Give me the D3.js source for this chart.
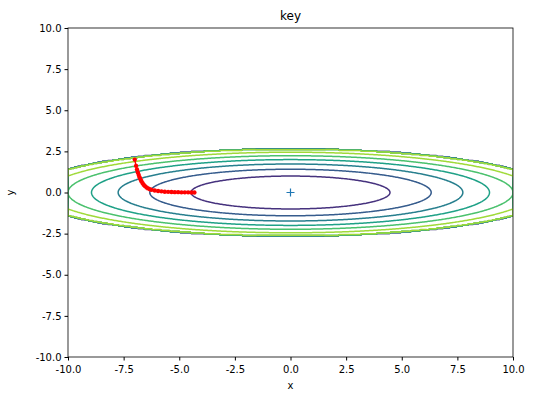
<!DOCTYPE html><html><head><script src="https://cdn.jsdelivr.net/npm/d3@7"></script>
<style>body{margin:0;background:#fff}text{font-family:"DejaVu Sans",sans-serif;fill:#000}</style></head><body><svg id="c" width="554" height="403"></svg>
<script>
const pathX=[-7.0,-6.94,-6.9,-6.86,-6.82,-6.78,-6.74,-6.7,-6.65,-6.6,-6.54,-6.47,-6.4,-6.32,-6.24,-6.1,-5.95,-5.8,-5.65,-5.5,-5.35,-5.2,-5.05,-4.9,-4.75,-4.6,-4.45,-4.32];
const pathY=[2.0,1.62,1.4,1.22,1.06,0.92,0.8,0.68,0.57,0.47,0.39,0.31,0.25,0.2,0.16,0.12,0.09,0.07,0.05,0.04,0.03,0.02,0.02,0.01,0.01,0.01,0.0,0.0];
const levels=[1,2,3,4,5,6];
const ticks=[-10,-7.5,-5,-2.5,0,2.5,5,7.5,10];
const title="key";
const svg=d3.select("#c");
const L=68,R=513,T=28,B=357;
const x=d3.scaleLinear([-10,10],[L,R]),y=d3.scaleLinear([-10,10],[B,T]);
svg.append("defs").append("clipPath").attr("id","cl").append("rect").attr("x",L).attr("y",T).attr("width",R-L).attr("height",B-T);
// grid with mask Z>7 -> 0, padded by one cell of 0
const h=0.05,n=Math.round(20/h)+1,N=n+2,vals=new Array(N*N);
for(let j=0;j<N;j++)for(let i=0;i<N;i++){let v=0;if(i>0&&i<N-1&&j>0&&j<N-1){const xx=-10+(i-1)*h,yy=-10+(j-1)*h;v=xx*xx/20+yy*yy;if(v>7)v=0;}vals[j*N+i]=v;}
const cs=d3.contours().size([N,N]).thresholds(levels)(vals);
const gx=d3.scaleLinear([1,n],[-10,10]);
const proj=d3.geoTransform({point(px,py){this.stream.point(x(gx(px-0.5)),y(gx(py-0.5)));}});
const col=l=>d3.interpolateViridis(l/7);
const g=svg.append("g").attr("clip-path","url(#cl)");
g.selectAll("path.c").data(cs).join("path").attr("d",d3.geoPath(proj)).attr("fill","none").attr("stroke",d=>col(d.value)).attr("stroke-width",1.5);
const pts=pathX.map((v,i)=>[v,pathY[i]]);
g.append("path").attr("d",d3.line().x(d=>x(d[0])).y(d=>y(d[1]))(pts)).attr("fill","none").attr("stroke","red").attr("stroke-width",1.5);
g.selectAll("circle").data(pts).join("circle").attr("cx",d=>x(d[0])).attr("cy",d=>y(d[1])).attr("r",2.2).attr("fill","red");
g.append("path").attr("d",`M${x(0)-4},${y(0)}h8M${x(0)},${y(0)-4}v8`).attr("stroke","#1f77b4").attr("stroke-width",1.2);
const fmt=d=>d.toFixed(1);
svg.append("g").attr("transform",`translate(0,${B})`).call(d3.axisBottom(x).tickValues(ticks).tickFormat(fmt).tickSize(3.5).tickSizeOuter(0)).call(a=>a.selectAll("text").attr("font-size",10).attr("dy","0.9em"));
svg.append("g").attr("transform",`translate(${L},0)`).call(d3.axisLeft(y).tickValues(ticks).tickFormat(fmt).tickSize(3.5).tickSizeOuter(0)).call(a=>a.selectAll("text").attr("font-size",10));
svg.append("rect").attr("x",L).attr("y",T).attr("width",R-L).attr("height",B-T).attr("fill","none").attr("stroke","#000").attr("stroke-width",0.8);
svg.selectAll(".domain").remove();
svg.append("text").attr("x",(L+R)/2).attr("y",389).attr("text-anchor","middle").attr("font-size",10).text("x");
svg.append("text").attr("transform",`translate(14,${(T+B)/2}) rotate(-90)`).attr("text-anchor","middle").attr("font-size",10).text("y");
svg.append("text").attr("x",(L+R)/2).attr("y",20).attr("text-anchor","middle").attr("font-size",12).text(title);
</script></body></html>
